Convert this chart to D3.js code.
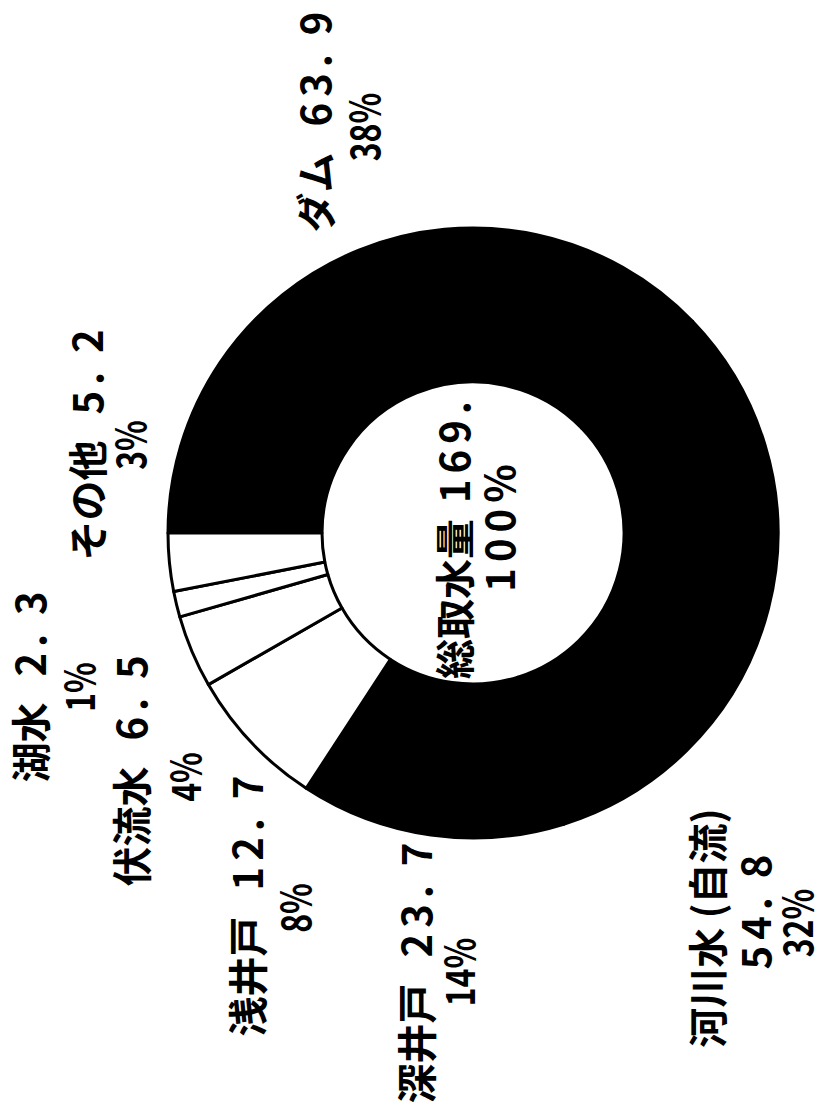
<!DOCTYPE html>
<html>
<head>
<meta charset="utf-8">
<script src="https://cdn.jsdelivr.net/npm/d3@7"></script>
<style>
  html, body { margin: 0; padding: 0; background: #fff; }
  svg { display: block; }
  text { font-family: "Noto Sans CJK JP", "Noto Sans CJK SC", sans-serif; font-weight: 700; fill: #000; }
</style>
</head>
<body>
<svg id="chart" width="823" height="1113"></svg>
<script>
// 水源別取水量
const categories = ["ダム", "河川水 (自流)", "深井戸", "浅井戸", "伏流水", "湖水", "その他"];
const values = [63.9, 54.8, 23.7, 12.7, 6.5, 2.3, 5.2];
const totalLabel = "総取水量";

// slice fills, same order as categories
const fills = ["#000", "#000", "#000", "#fff", "#fff", "#fff", "#fff"];

// label placement in screen px; every text runs bottom-to-top.
// nx/ny: centre of the name line, px/py: centre of the percentage line,
// split: value on a line of its own, centred at vx/vy
const labelLayout = {
  "ダム":          { nx: 314, ny: 122,  px: 362, py: 127 },
  "その他":        { nx: 86,  ny: 445,  px: 128, py: 445 },
  "湖水":          { nx: 29,  ny: 687,  px: 77,  py: 687 },
  "伏流水":        { nx: 130, ny: 771,  px: 183, py: 777 },
  "浅井戸":        { nx: 246, ny: 906,  px: 293, py: 908 },
  "深井戸":        { nx: 415, ny: 973,  px: 457, py: 972 },
  "河川水 (自流)": { nx: 706, ny: 928,  px: 795, py: 923, split: true, vx: 754, vy: 912 }
};

const cx = 473, cy = 533, R = 305, r = 151;
const fontSize = 40;
const digitSpacing = 6;

const svg = d3.select("#chart");
const total = d3.sum(values);
const pct = v => Math.round(v / total * 100) + "%";

const data = categories.map((c, i) => ({ name: c, value: values[i], fill: fills[i] }));

// first slice starts at 9 o'clock and runs clockwise
const pie = d3.pie().sort(null).value(d => d.value)
  .startAngle(-Math.PI / 2).endAngle(1.5 * Math.PI);
const arc = d3.arc().innerRadius(r).outerRadius(R);

function vtext(parent, x, y, anchor) {
  return parent.append("text")
    .attr("transform", `translate(${x},${y}) rotate(-90)`)
    .attr("text-anchor", anchor)
    .attr("dominant-baseline", "central")
    .style("font-size", fontSize + "px");
}

// "name  12. 3" — name, then the number with spaced digits and a gap after the point
function valueLine(parent, x, y, anchor, name, value, gap) {
  const t = vtext(parent, x, y, anchor);
  if (name) t.append("tspan").text(name);
  const [ip, dp] = value.toFixed(1).split(".");
  t.append("tspan").attr("dx", name ? gap : 0)
    .style("letter-spacing", digitSpacing + "px").text(ip + ".");
  t.append("tspan").attr("dx", 13).text(dp);
  return t;
}

function pctLine(x, y, str) {
  return svg.append("text")
    .attr("transform", `translate(${x},${y}) rotate(-90) scale(0.8,1)`)
    .attr("text-anchor", "middle")
    .attr("dominant-baseline", "central")
    .style("font-size", fontSize + "px")
    .text(str);
}

// centre label, kept inside the hole
svg.append("clipPath").attr("id", "hole")
  .append("circle").attr("cx", cx).attr("cy", cy).attr("r", r - 1);
const centre = svg.append("g").attr("clip-path", "url(#hole)");
valueLine(centre, 453, 679, "start", totalLabel, total, 16);
vtext(centre, 498, 525, "middle").style("letter-spacing", "6px").text("100%");

// ring
svg.append("g")
  .attr("transform", `translate(${cx},${cy})`)
  .selectAll("path")
  .data(pie(data))
  .join("path")
  .attr("d", arc)
  .attr("fill", d => d.data.fill)
  .attr("stroke", "#000")
  .attr("stroke-width", 3)
  .attr("stroke-linejoin", "round");

// slice labels
data.forEach(d => {
  const L = labelLayout[d.name];
  if (L.split) {
    vtext(svg, L.nx, L.ny, "middle").text(d.name);
    valueLine(svg, L.vx, L.vy, "middle", null, d.value, 0);
  } else {
    valueLine(svg, L.nx, L.ny, "middle", d.name, d.value, 26);
  }
  pctLine(L.px, L.py, pct(d.value));
});
</script>
</body>
</html>
